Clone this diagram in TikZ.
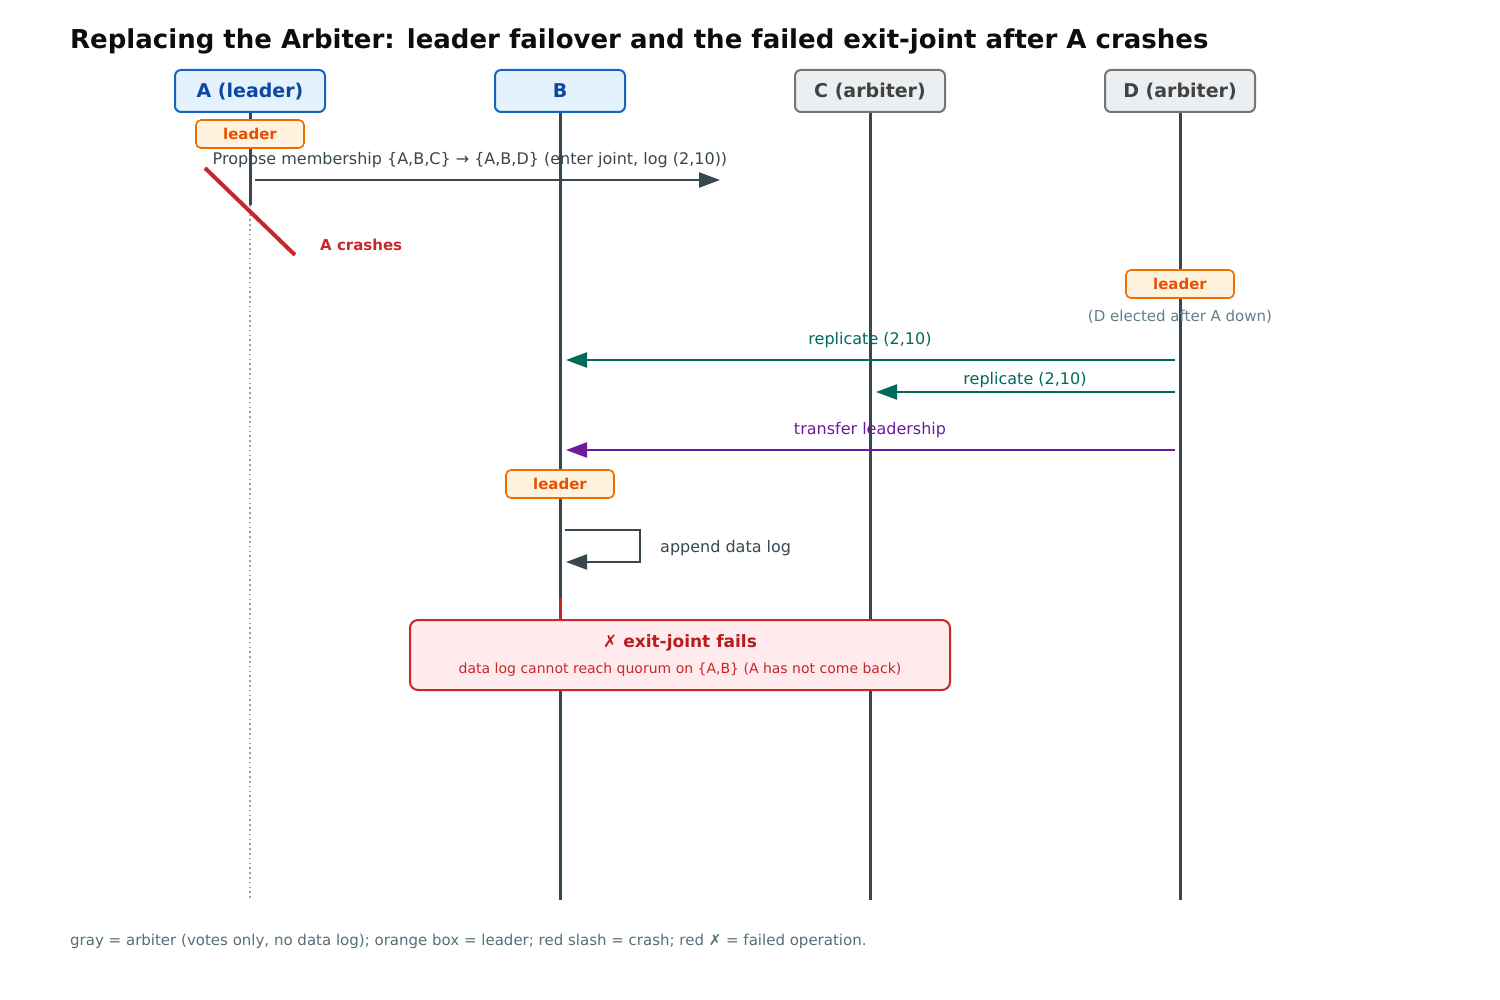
\documentclass[tikz,border=0pt]{standalone}
\usepackage{fontspec}
\setmainfont{DejaVu Sans}
\usetikzlibrary{arrows.meta}
\definecolor{lifeC}{HTML}{37474F}
\definecolor{hdrBfill}{HTML}{E3F2FD}
\definecolor{hdrBdraw}{HTML}{1565C0}
\definecolor{hdrBtext}{HTML}{0D47A1}
\definecolor{hdrGfill}{HTML}{ECEFF1}
\definecolor{hdrGdraw}{HTML}{757575}
\definecolor{hdrGtext}{HTML}{424242}
\definecolor{ldrFill}{HTML}{FFF3E0}
\definecolor{ldrDraw}{HTML}{EF6C00}
\definecolor{ldrText}{HTML}{E65100}
\definecolor{crashC}{HTML}{C62828}
\definecolor{failFill}{HTML}{FFEBEE}
\definecolor{failTitle}{HTML}{B71C1C}
\definecolor{noteC}{HTML}{607D8B}
\definecolor{footC}{HTML}{546E7A}
\definecolor{replC}{HTML}{00695C}
\definecolor{xferC}{HTML}{6A1B9A}
\definecolor{dotC}{HTML}{9E9E9E}
\begin{document}
\begin{tikzpicture}[x=1pt,y=-1pt,
  hdrdata/.style={draw=hdrBdraw,fill=hdrBfill,text=hdrBtext,line width=2pt,rounded corners=6pt,minimum height=42pt,font=\fontsize{19}{22}\selectfont\bfseries,inner sep=0pt,text height=16pt,text depth=3pt},
  hdrarb/.style={draw=hdrGdraw,fill=hdrGfill,text=hdrGtext,line width=2pt,rounded corners=6pt,minimum height=42pt,minimum width=150pt,font=\fontsize{19}{22}\selectfont\bfseries,inner sep=0pt,text height=16pt,text depth=3pt},
  ldrbox/.style={draw=ldrDraw,fill=ldrFill,text=ldrText,line width=1.6pt,rounded corners=5pt,minimum width=108pt,minimum height=28pt,inner sep=0pt,font=\fontsize{15}{17}\selectfont\bfseries,text height=13pt,text depth=2pt},
  life/.style={draw=lifeC,line width=3pt},
  msg/.style={line width=2.3pt,-{Triangle[length=21pt,width=15pt]}},
  lbl/.style={font=\fontsize{16}{19}\selectfont,inner sep=0pt},
]
\useasboundingbox (0,0) rectangle (1500,1000);

% title
\node[anchor=west,inner sep=0pt,font=\fontsize{26}{31}\selectfont\bfseries,text=black!95] (title) at (70,41) {Replacing the Arbiter: leader failover and the failed exit-joint after A crashes};

% lifelines
\coordinate (Atop) at (250,112);
\coordinate (Acut) at (250,205);
\coordinate (Abot) at (250,900);
\coordinate (Btop) at (560,112);
\coordinate (Bbot) at (560,900);
\coordinate (Ctop) at (870,112);
\coordinate (Cbot) at (870,900);
\coordinate (Dtop) at (1180,112);
\coordinate (Dbot) at (1180,900);
\coordinate (Bred) at (560,598);
\coordinate (Bredb) at (560,621);
\draw[life] (Atop) -- (Acut);
\draw[dotC,line width=1.6pt,dash pattern=on 1.6pt off 3.2pt] (Acut) -- (Abot);
\draw[life] (Btop) -- (Bbot);
\draw[life] (Ctop) -- (Cbot);
\draw[life] (Dtop) -- (Dbot);
\draw[crashC,line width=3pt] (Bred) -- (Bredb);

% headers
\node[hdrdata,minimum width=150pt] (A) at (250,91) {A (leader)};
\node[hdrdata,minimum width=130pt] (B) at (560,91) {B};
\node[hdrarb] (C) at (870,91) {C (arbiter)};
\node[hdrarb] (D) at (1180,91) {D (arbiter)};

% leader A
\node[ldrbox] (LA) at (250,134) {leader};
\coordinate (p1s) at (255,180);
\coordinate (p1e) at (720,180);
\draw[msg,lifeC] (p1s) -- (p1e);
\node[lbl,text=lifeC] (p1l) at (470,160) {Propose membership \{A,B,C\} → \{A,B,D\} (enter joint, log (2,10))};

% crash
\coordinate (cr1) at (205,168);
\coordinate (cr2) at (295,255);
\draw[crashC,line width=4pt] (cr1) -- (cr2);
\node[anchor=west,inner sep=0pt,text=crashC,font=\fontsize{15}{18}\selectfont\bfseries] (crl) at (320,245) {A crashes};

% leader D
\node[ldrbox] (LD) at (1180,284) {leader};
\node[font=\fontsize{15}{18}\selectfont,inner sep=0pt,text=noteC] (Dnote) at (1180,317) {(D elected after A down)};

% replicate
\coordinate (r1s) at (1175,360);
\coordinate (r1e) at (566,360);
\draw[msg,replC] (r1s) -- (r1e);
\node[lbl,text=replC] (r1l) at (870,340) {replicate (2,10)};
\coordinate (r2s) at (1175,392);
\coordinate (r2e) at (876,392);
\draw[msg,replC] (r2s) -- (r2e);
\node[lbl,text=replC] (r2l) at (1025,380) {replicate (2,10)};

% transfer
\coordinate (t1s) at (1175,450);
\coordinate (t1e) at (566,450);
\draw[msg,xferC] (t1s) -- (t1e);
\node[lbl,text=xferC] (t1l) at (870,430) {transfer leadership};

% leader B
\node[ldrbox] (LB) at (560,484) {leader};

% self loop
\coordinate (s1) at (565,530);
\coordinate (s2) at (640,530);
\coordinate (s3) at (640,562);
\coordinate (s4) at (566,562);
\draw[msg,lifeC] (s1) -- (s2) -- (s3) -- (s4);
\node[anchor=west,lbl,text=lifeC] (sl) at (660,548) {append data log};

% failure box
\node[draw=crashC,fill=failFill,line width=2pt,rounded corners=8pt,minimum width=540pt,minimum height=70pt,inner sep=0pt] (fail) at (680,655) {};
\node[inner sep=0pt,text=failTitle,font=\fontsize{17}{20}\selectfont\bfseries] (failT) at (680,643) {✗ exit-joint fails};
\node[inner sep=0pt,text=crashC,font=\fontsize{14}{17}\selectfont] (failS) at (680,670) {data log cannot reach quorum on \{A,B\} (A has not come back)};

% footer
\node[anchor=west,inner sep=0pt,text=footC,font=\fontsize{15}{18}\selectfont] (foot) at (70,941) {gray = arbiter (votes only, no data log); orange box = leader; red slash = crash; red ✗ = failed operation.};
\end{tikzpicture}
\end{document}
